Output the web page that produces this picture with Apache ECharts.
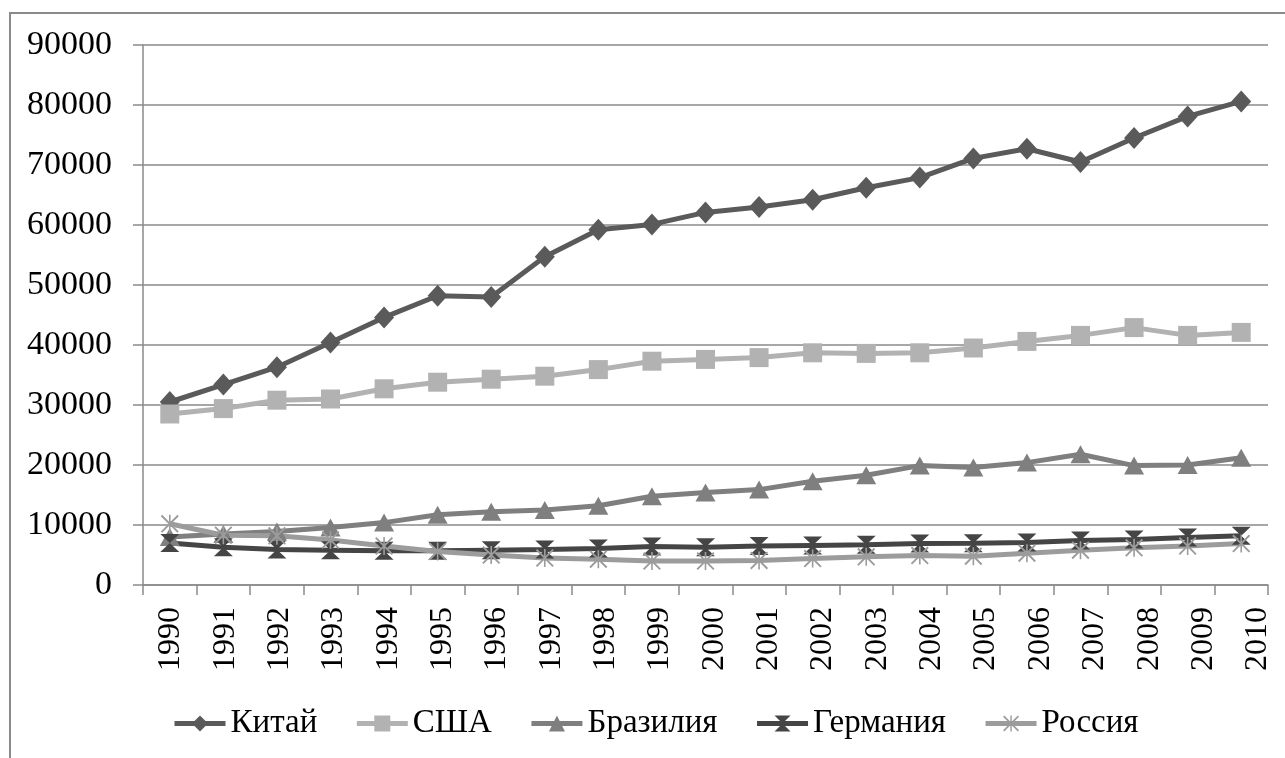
<!DOCTYPE html>
<html>
<head>
<meta charset="utf-8">
<script src="https://cdn.jsdelivr.net/npm/echarts@6/dist/echarts.min.js"></script>
<style>html,body{margin:0;padding:0;background:#fff;}#c{width:1285px;height:758px;}</style>
</head>
<body>
<div id="c"></div>
<script>
const years = ['1990','1991','1992','1993','1994','1995','1996','1997','1998','1999','2000','2001','2002','2003','2004','2005','2006','2007','2008','2009','2010'];
const yTicks = [0, 90000, 10000];
const china   = [30500,33400,36300,40400,44600,48200,48000,54700,59200,60100,62100,63000,64200,66200,67900,71100,72700,70500,74500,78100,80600];
const usa     = [28500,29400,30800,31000,32700,33800,34300,34800,35900,37300,37600,37900,38700,38600,38700,39500,40600,41600,42900,41600,42100];
const brazil  = [8000,8500,8900,9600,10400,11700,12200,12500,13200,14800,15400,15900,17300,18300,19900,19600,20400,21800,19900,20000,21200];
const germany = [7000,6300,5900,5800,5700,5700,5800,5900,6100,6400,6300,6500,6600,6700,6900,6950,7100,7400,7600,7900,8200];
const russia  = [10200,8300,8200,7500,6500,5600,5000,4500,4300,4000,4000,4100,4400,4700,4900,4800,5300,5800,6200,6500,6900];
const names = ['Китай','США','Бразилия','Германия','Россия'];

const hourglass = 'path://M0,0L20,0L10,9.5L20,19L0,19L10,9.5Z';
const asterisk = 'path://M0,1.5L1.5,0L20,18.5L18.5,20ZM18.5,0L20,1.5L1.5,20L0,18.5ZM9.1,0L10.9,0L10.9,20L9.1,20Z';

const chart = echarts.init(document.getElementById('c'));
const font = "'Liberation Serif', 'Times New Roman', serif";
function line(name, data, color, symbol, size) {
  return {
    name: name, type: 'line', data: data, xAxisIndex: 0, yAxisIndex: 0,
    symbol: symbol, symbolSize: size, showSymbol: true,
    lineStyle: { width: 5, color: color },
    itemStyle: { color: color },
    emphasis: { disabled: true },
    animation: false
  };
}
chart.setOption({
  animation: false,
  backgroundColor: '#fff',
  textStyle: { fontFamily: font },
  graphic: [
    { type: 'rect', z: 100, shape: { x: 1269, y: 598, width: 30, height: 90 }, style: { fill: '#fff' } },
    { type: 'rect', z: 100, shape: { x: 10, y: 13, width: 1400, height: 900 }, style: { fill: null, stroke: '#8a8a8a', lineWidth: 2 } }
  ],
  grid: [
    { left: 143, top: 45, right: 17, bottom: 173, containLabel: false },
    { left: 143.7, top: 45, width: 1146.6, bottom: 173, containLabel: false }
  ],
  legend: {
    data: names, left: 167, top: 702, itemWidth: 51, itemHeight: 20, itemGap: 37,
    lineStyle: { width: 5 },
    textStyle: { fontFamily: font, fontSize: 33, color: '#000' },
    selectedMode: false
  },
  xAxis: [
    { type: 'category', gridIndex: 0, data: years, boundaryGap: true,
      axisLine: { lineStyle: { color: '#8a8a8a', width: 1.5 } },
      axisTick: { show: true, length: 10, interval: 0, lineStyle: { color: '#8a8a8a', width: 1.5 } },
      axisLabel: { show: false } },
    { type: 'category', gridIndex: 1, data: years, boundaryGap: true,
      axisLine: { show: false }, axisTick: { show: false },
      axisLabel: { show: true, interval: 0, rotate: 90, margin: 22, fontFamily: font, fontSize: 32, color: '#000' } }
  ],
  yAxis: [
    { type: 'value', gridIndex: 0, min: yTicks[0], max: yTicks[1], interval: yTicks[2],
      axisLine: { show: true, lineStyle: { color: '#8a8a8a', width: 1.5 } },
      axisTick: { show: true, length: 10, lineStyle: { color: '#8a8a8a', width: 1.5 } },
      splitLine: { show: true, lineStyle: { color: '#8a8a8a', width: 1.5 } },
      axisLabel: { margin: 31, fontFamily: font, fontSize: 34, color: '#000', formatter: function (v) { return String(v); } } },
    { type: 'value', gridIndex: 1, min: 0, max: 90000, show: false }
  ],
  series: [
    line(names[0], china, '#5a5a5a', 'diamond', [20, 22]),
    line(names[1], usa, '#b2b2b2', 'rect', 19),
    line(names[2], brazil, '#7f7f7f', 'triangle', [20, 18]),
    line(names[3], germany, '#454545', hourglass, [19, 18]),
    line(names[4], russia, '#9c9c9c', asterisk, 18)
  ]
});
</script>
</body>
</html>
